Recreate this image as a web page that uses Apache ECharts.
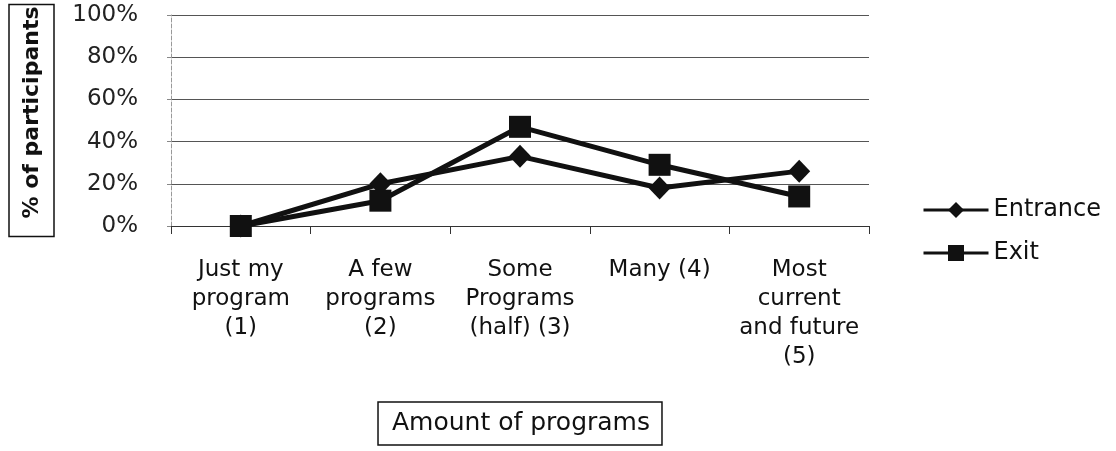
<!DOCTYPE html>
<html>
<head>
<meta charset="utf-8">
<script src="https://cdn.jsdelivr.net/npm/echarts@6/dist/echarts.min.js"></script>
<style>
  html, body { margin: 0; padding: 0; background: #fff; }
  #chart { width: 1116px; height: 451px; }
</style>
</head>
<body>
<div id="chart"></div>
<script>
const categories = [
  'Just my\nprogram\n(1)',
  'A few\nprograms\n(2)',
  'Some\nPrograms\n(half) (3)',
  'Many (4)',
  'Most\ncurrent\nand future\n(5)'
];
const entrance = [0, 20, 33, 18, 26];
const exitVals = [0, 12, 47, 29, 14];
const yTicks = [0, 20, 40, 60, 80, 100];

const font = '"DejaVu Sans", "Open Sans", sans-serif';
const chart = echarts.init(document.getElementById('chart'));

chart.setOption({
  animation: false,
  textStyle: { fontFamily: font, color: '#111' },
  grid: { left: 171, right: 247, top: 15, bottom: 225, outerBoundsMode: 'none', containLabel: false },
  legend: {
    orient: 'vertical',
    left: 917,
    top: 193,
    itemWidth: 65,
    itemHeight: 20,
    itemGap: 19,
    lineStyle: { width: 3 },
    textStyle: { fontSize: 24, lineHeight: 24, color: '#111', fontFamily: font },
    data: ['Entrance', 'Exit']
  },
  xAxis: {
    type: 'category',
    data: categories,
    boundaryGap: true,
    axisLine: { lineStyle: { color: '#333', width: 1 } },
    axisTick: { show: true, length: 8, lineStyle: { color: '#333' } },
    axisLabel: { interval: 0, fontSize: 23, lineHeight: 29, color: '#111', margin: 30 },
    name: 'Amount of programs',
    nameLocation: 'middle',
    nameGap: 176,
    nameTextStyle: {
      fontSize: 25, color: '#111',
      borderColor: '#111', borderWidth: 1.5,
      padding: [9, 12, 9, 14]
    }
  },
  yAxis: {
    type: 'value',
    min: 0,
    max: 100,
    interval: 20,
    axisLine: { show: true, lineStyle: { color: '#999', type: 'dashed', width: 1 } },
    axisTick: { show: true, length: 6, lineStyle: { color: '#888', type: 'dashed' } },
    splitLine: { lineStyle: { color: '#555', width: 1 } },
    axisLabel: {
      fontSize: 23, color: '#222', margin: 33,
      formatter: v => yTicks.indexOf(v) >= 0 ? v + '%' : ''
    },
    name: '% of participants',
    nameLocation: 'middle',
    nameGap: 117,
    nameRotate: 90,
    nameTextStyle: {
      fontSize: 22, fontWeight: 'bold', color: '#111',
      borderColor: '#111', borderWidth: 1.5,
      padding: [12, 2, 11, 18]
    }
  },
  series: [
    {
      name: 'Entrance',
      type: 'line',
      data: entrance,
      symbol: 'diamond',
      symbolSize: [22, 23],
      lineStyle: { color: '#111', width: 5 },
      itemStyle: { color: '#111' }
    },
    {
      name: 'Exit',
      type: 'line',
      data: exitVals,
      symbol: 'rect',
      symbolSize: 22,
      lineStyle: { color: '#111', width: 5 },
      itemStyle: { color: '#111' }
    }
  ]
});
</script>
</body>
</html>
